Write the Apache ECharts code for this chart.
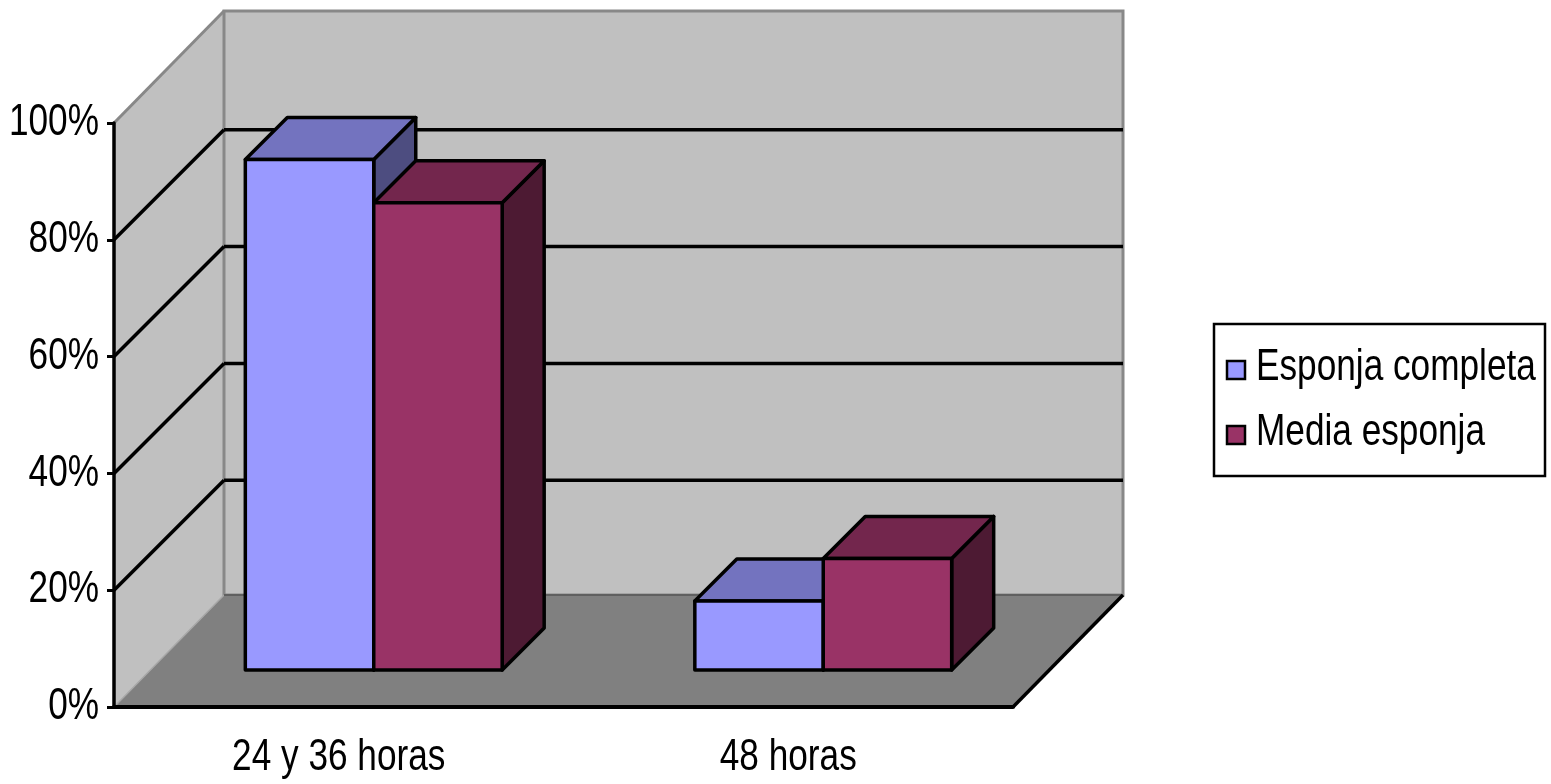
<!DOCTYPE html>
<html>
<head>
<meta charset="utf-8">
<script src="https://cdn.jsdelivr.net/npm/echarts@6/dist/echarts.min.js"></script>
<style>
html, body { margin: 0; padding: 0; background: #fff; }
#chart { width: 1551px; height: 784px; }
</style>
</head>
<body>
<div id="chart"></div>
<script>
var categories = ['24 y 36 horas', '48 horas'];
var seriesNames = ['Esponja completa', 'Media esponja'];
var esponjaCompleta = [87.4, 11.8];
var mediaEsponja = [80, 19.1];
var yTicks = [0, 20, 40, 60, 80, 100];

var FONT = '44px "Liberation Sans", Arial, sans-serif';
var NARROW = 0.8;         // el texto original es estrecho
var DX = 110, DY = 112;   // profundidad suelo / pared de fondo
var BX = 35, BY = 37;     // plano frontal de las barras
var BD = 42;              // fondo de cada barra
var GAP = 1.5;            // ancho de separacion 150%

// paredes, suelo y lineas de division
function wallsItem(params, api) {
  var cs = params.coordSys;
  var x0 = cs.x, x1 = cs.x + cs.width;
  var yOf = function (v) { return api.coord([0, v])[1]; };
  var yBot = yOf(0), yTop = yOf(100);
  var kids = [];
  kids.push({ type: 'polygon', shape: { points: [[x0, yTop], [x0 + DX, yTop - DY], [x0 + DX, yBot - DY], [x0, yBot]] },
    style: { fill: '#c0c0c0' } });
  kids.push({ type: 'rect', shape: { x: x0 + DX, y: yTop - DY, width: cs.width, height: yBot - yTop },
    style: { fill: '#c0c0c0', stroke: '#888888', lineWidth: 3 } });
  kids.push({ type: 'polygon', shape: { points: [[x0, yBot], [x1, yBot], [x1 + DX, yBot - DY], [x0 + DX, yBot - DY]] },
    style: { fill: '#808080' } });
  for (var i = 0; i < yTicks.length; i++) {
    var v = yTicks[i], y = yOf(v);
    if (v > 0 && v < 100) {
      kids.push({ type: 'line', shape: { x1: x0 + DX, y1: y - DY + 2, x2: x1 + DX, y2: y - DY + 2 },
        style: { stroke: '#000', lineWidth: 3.5 } });
      kids.push({ type: 'line', shape: { x1: x0, y1: y, x2: x0 + DX, y2: y - DY + 2 },
        style: { stroke: '#000', lineWidth: 3.5 } });
    }
  }
  kids.push({ type: 'line', shape: { x1: x0, y1: yTop, x2: x0 + DX, y2: yTop - DY }, style: { stroke: '#888888', lineWidth: 3 } });
  kids.push({ type: 'line', shape: { x1: x0, y1: yBot, x2: x0 + DX, y2: yBot - DY }, style: { stroke: '#a8a8a8', lineWidth: 1.5 } });
  kids.push({ type: 'line', shape: { x1: x0 + DX, y1: yBot - DY, x2: x1 + DX, y2: yBot - DY }, style: { stroke: '#606060', lineWidth: 2 } });
  kids.push({ type: 'line', shape: { x1: x1, y1: yBot, x2: x1 + DX, y2: yBot - DY }, style: { stroke: '#000', lineWidth: 3.5 } });
  return { type: 'group', children: kids };
}

function barItem(idx, front, top, side) {
  return function (params, api) {
    var c = api.value(0), v = api.value(1);
    var bw = api.size([1, 0])[0] / (2 + GAP);
    var pTop = api.coord([c, v]), pBase = api.coord([c, 0]);
    var xl = pTop[0] - bw + idx * bw + BX, xr = xl + bw;
    var yt = pTop[1] - BY, yb = pBase[1] - BY;
    var st = { stroke: '#000', lineWidth: 3.5, lineJoin: 'round' };
    return { type: 'group', children: [
      { type: 'polygon', shape: { points: [[xr, yt], [xr + BD, yt - BD], [xr + BD, yb - BD], [xr, yb]] },
        style: Object.assign({ fill: side }, st) },
      { type: 'polygon', shape: { points: [[xl, yt], [xr, yt], [xr + BD, yt - BD], [xl + BD, yt - BD]] },
        style: Object.assign({ fill: top }, st) },
      { type: 'rect', shape: { x: xl, y: yt, width: bw, height: yb - yt },
        style: Object.assign({ fill: front }, st) }
    ] };
  };
}

// etiquetas de los ejes (texto estrecho)
function yLabelItem(params, api) {
  var p = api.coord([0, api.value(0)]);
  return { type: 'text', x: params.coordSys.x - 15, y: p[1], scaleX: NARROW,
    style: { text: api.value(0) + '%', font: FONT, fill: '#000', align: 'right', verticalAlign: 'middle' } };
}
function xLabelItem(params, api) {
  var i = api.value(0);
  var p = api.coord([i, 0]);
  return { type: 'text', x: p[0], y: p[1] + 51, scaleX: NARROW,
    style: { text: categories[i], font: FONT, fill: '#000', align: 'center', verticalAlign: 'middle' } };
}

var legendColors = ['#9999ff', '#993366'];
var legendKids = [{ type: 'rect', shape: { x: 1214, y: 324, width: 331, height: 152 },
  style: { fill: '#fff', stroke: '#000', lineWidth: 2.5 } }];
seriesNames.forEach(function (name, i) {
  legendKids.push({ type: 'rect', shape: { x: 1227, y: 361 + i * 65, width: 18, height: 18 },
    style: { fill: legendColors[i], stroke: '#000', lineWidth: 2.5 } });
  legendKids.push({ type: 'text', x: 1256, y: 368 + i * 65, scaleX: NARROW,
    style: { text: name, font: FONT, fill: '#000', verticalAlign: 'middle' } });
});

var chart = echarts.init(document.getElementById('chart'));
chart.setOption({
  animation: false,
  backgroundColor: '#ffffff',
  grid: { left: 114, right: 538, top: 123, bottom: 77, outerBoundsMode: 'none' },
  graphic: [{ type: 'group', children: legendKids }],
  xAxis: {
    type: 'category', data: categories, boundaryGap: true, z: 5,
    axisLine: { lineStyle: { color: '#000', width: 4 } },
    axisTick: { length: 8, lineStyle: { color: '#000', width: 3 } },
    axisLabel: { show: false },
    splitLine: { show: false }
  },
  yAxis: {
    type: 'value', min: 0, max: 100, interval: 20, z: 5,
    axisLine: { show: true, lineStyle: { color: '#000', width: 3.5 } },
    axisTick: { show: true, length: 7, lineStyle: { color: '#000', width: 3 } },
    axisLabel: { show: false },
    splitLine: { show: false }
  },
  series: [
    { type: 'custom', name: 'paredes', z: 1, silent: true, renderItem: wallsItem, data: [[0, 0]] },
    { type: 'custom', name: seriesNames[0], z: 2, itemStyle: { color: legendColors[0] },
      renderItem: barItem(0, '#9999ff', '#7373bf', '#4d4d80'),
      data: esponjaCompleta.map(function (v, i) { return [i, v]; }) },
    { type: 'custom', name: seriesNames[1], z: 3, itemStyle: { color: legendColors[1] },
      renderItem: barItem(1, '#993366', '#73264d', '#4d1a33'),
      data: mediaEsponja.map(function (v, i) { return [i, v]; }) },
    { type: 'custom', name: 'ejeY', z: 6, silent: true, renderItem: yLabelItem,
      encode: { y: 0 }, data: yTicks.map(function (t) { return [t]; }) },
    { type: 'custom', name: 'ejeX', z: 6, silent: true, renderItem: xLabelItem,
      encode: { x: 0 }, data: categories.map(function (c, i) { return [i]; }) }
  ]
});
</script>
</body>
</html>
